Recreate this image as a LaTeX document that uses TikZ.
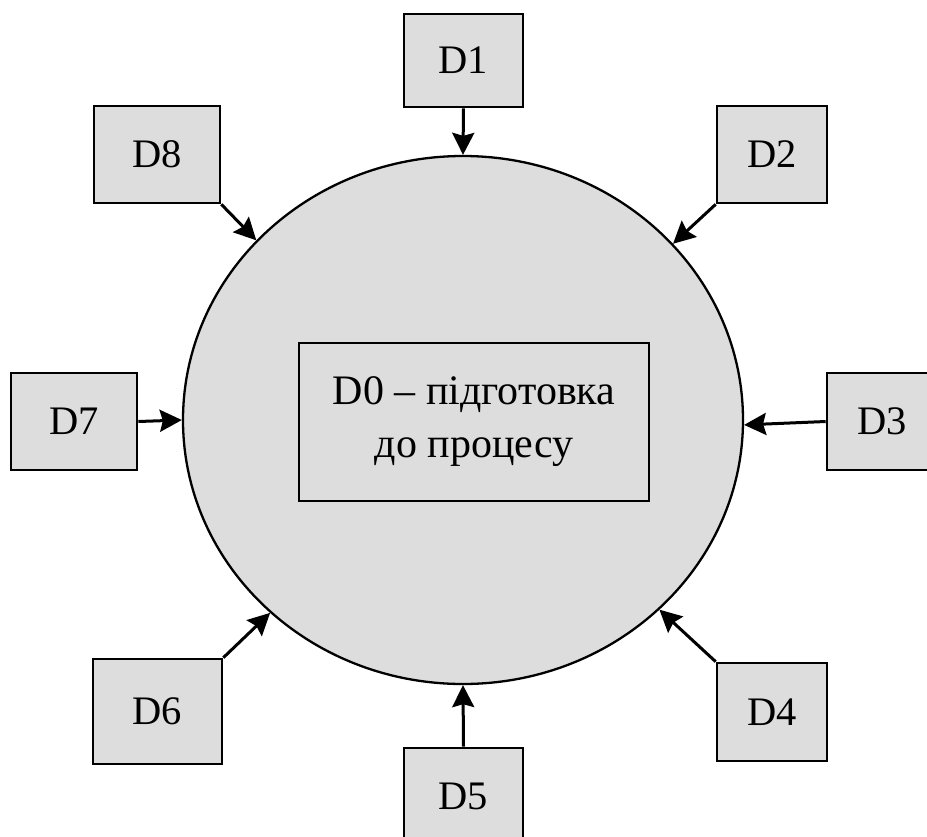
\documentclass[tikz,border=0pt]{standalone}
\usepackage{fontspec}
\setmainfont{Liberation Serif}
\usetikzlibrary{shapes.geometric,arrows.meta}
\definecolor{boxgrey}{HTML}{DDDDDD}
\begin{document}
\begin{tikzpicture}[x=1pt,y=-1pt,
  dbox/.style={draw=black,fill=boxgrey,line width=2.6pt,inner sep=0pt,
    font=\fontsize{40.5}{53}\selectfont},
  arr/.style={line width=3pt,-{Stealth[length=22pt,width=22pt,inset=3pt]}}]
\useasboundingbox (0,0) rectangle (927,836);
\clip (0,0) rectangle (927,836);
\node[ellipse,draw=black,fill=boxgrey,line width=2.3pt,minimum width=560pt,minimum height=528pt,inner sep=0pt] (ell) at (463,420) {};
\node[draw=black,fill=boxgrey,line width=2.4pt,minimum width=350pt,minimum height=158pt,inner sep=0pt,align=center,
  font=\fontsize{42}{53}\selectfont] (d0) at (474,422) {D0 – підготовка\\до процесу};
\node[dbox,minimum width=119pt,minimum height=93pt] (d1) at (463.5,60.5) {D1};
\node[dbox,minimum width=110pt,minimum height=97pt] (d2) at (772,154.5) {D2};
\node[dbox,minimum width=110pt,minimum height=97pt] (d3) at (882,421.5) {D3};
\node[dbox,minimum width=110pt,minimum height=98pt] (d4) at (772,712) {D4};
\node[dbox,minimum width=119pt,minimum height=97pt] (d5) at (463.5,796.5) {D5};
\node[dbox,minimum width=129pt,minimum height=105pt] (d6) at (157.5,711.5) {D6};
\node[dbox,minimum width=126pt,minimum height=97pt] (d7) at (74,421.5) {D7};
\node[dbox,minimum width=126pt,minimum height=97pt] (d8) at (157,154.5) {D8};
\draw[arr] (d1.south) -- (ell.north);
\draw[arr] (d2.south west) -- (ell.40);
\draw[arr] (d3.west) -- (ell.-1);
\draw[arr] (d4.north west) -- (ell.-44);
\draw[arr] (d5.north) -- (ell.south);
\draw[arr] (d6.north east) -- (ell.-135);
\draw[arr] (d7.east) -- (ell.180);
\draw[arr] (d8.south east) -- (ell.139);
\end{tikzpicture}
\end{document}
